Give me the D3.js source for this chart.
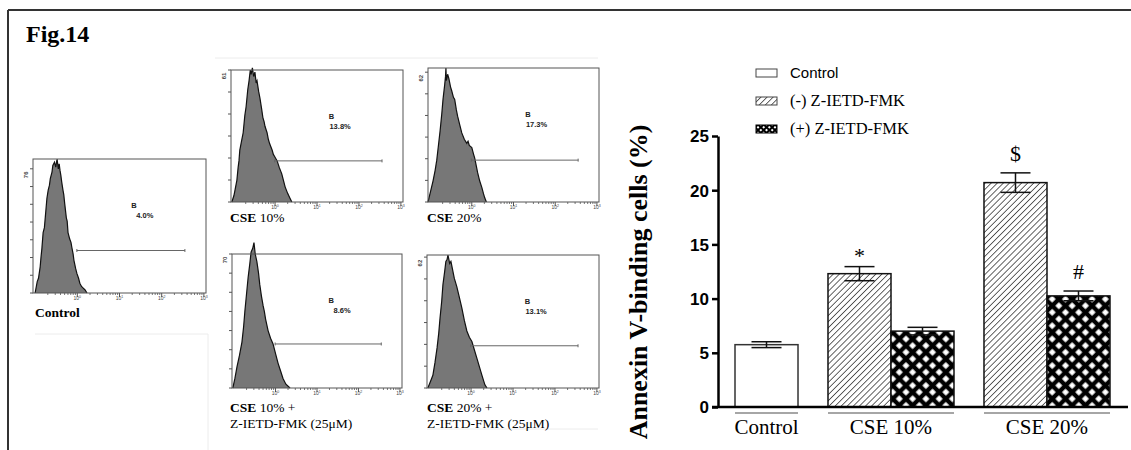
<!DOCTYPE html>
<html>
<head>
<meta charset="utf-8">
<script src="https://cdn.jsdelivr.net/npm/d3@7"></script>
<style>
  body { margin: 0; background: #fff; }
  svg { display: block; }
</style>
</head>
<body>
<svg id="fig" width="1131" height="450"></svg>
<script>
// ---------- Bar chart data ----------
const groups = ["Control", "CSE 10%", "CSE 20%"];
const seriesNames = ["Control", "(-) Z-IETD-FMK", "(+) Z-IETD-FMK"];
const barGroup = [0, 1, 1, 2, 2];
const barSeries = [0, 1, 2, 1, 2];
const barMeans = [5.75, 12.3, 7.0, 20.7, 10.25];
const barSEM = [0.27, 0.65, 0.35, 0.9, 0.45];
const barMarks = ["", "*", "", "$", "#"];
const yTicks = [0, 5, 10, 15, 20, 25];
const yTitle = "Annexin V-binding cells (%)";

// ---------- Flow cytometry histograms (log10 fluorescence, event count) ----------
const panelTitleBold = ["Control", "CSE", "CSE", "CSE", "CSE"];
const panelTitleRest = ["", " 10%", " 20%", " 10% +", " 20% +"];
const panelTitleLine2 = ["", "", "", "Z-IETD-FMK (25\u03bcM)", "Z-IETD-FMK (25\u03bcM)"];
const panelMaxCount = [76, 61, 62, 70, 62];
const panelGateName = ["B", "B", "B", "B", "B"];
const panelGatePct = ["4.0%", "13.8%", "17.3%", "8.6%", "13.1%"];
const decades = [0, 1, 2, 3];

const histControl = [[-1.00,0],[-0.95,7],[-0.92,9],[-0.88,16],[-0.86,22],[-0.84,27],[-0.81,37],[-0.78,40],[-0.76,46],
  [-0.72,58],[-0.69,63],[-0.66,66],[-0.64,70],[-0.60,74],[-0.58,78],[-0.54,80],[-0.51,77],[-0.48,82],
  [-0.45,76],[-0.43,79],[-0.41,75],[-0.39,72],[-0.37,68],[-0.34,63],[-0.32,60],[-0.30,55],[-0.26,46],
  [-0.24,44],[-0.22,37],[-0.18,33],[-0.15,31],[-0.13,28],[-0.10,24],[-0.08,20],[-0.04,15],[-0.01,12],
  [0.03,9],[0.06,6],[0.10,4],[0.14,3],[0.18,2],[0.23,0]];
const histCse10 = [[-1.03,0],[-0.98,3],[-0.95,6],[-0.91,10],[-0.88,16],[-0.86,19],[-0.84,24],[-0.80,28],[-0.76,32],
  [-0.72,40],[-0.69,44],[-0.65,52],[-0.62,56],[-0.59,61],[-0.57,59],[-0.54,62],[-0.51,58],[-0.48,60],
  [-0.45,55],[-0.43,56],[-0.39,51],[-0.36,48],[-0.32,43],[-0.29,39],[-0.26,37],[-0.24,35],[-0.19,32],
  [-0.16,29],[-0.13,27],[-0.07,24],[-0.04,22],[-0.01,21],[0.02,20],[0.05,19],[0.10,16],[0.16,13],[0.20,10],
  [0.24,7],[0.30,4],[0.35,2],[0.40,0]];
const histCse20 = [[-1.05,0],[-0.99,5],[-0.93,10],[-0.88,15],[-0.84,20],[-0.80,27],[-0.76,34],[-0.72,42],
  [-0.69,49],[-0.65,56],[-0.63,60],[-0.62,64],[-0.61,58],[-0.58,61],[-0.55,59],[-0.51,55],[-0.48,53],
  [-0.44,50],[-0.41,49],[-0.37,44],[-0.34,41],[-0.29,37],[-0.24,33],[-0.18,30],[-0.12,28],[-0.09,29],
  [-0.06,27],[0.00,26],[0.04,23],[0.07,21],[0.11,17],[0.14,14],[0.19,10],[0.24,7],[0.28,4],[0.31,2],[0.35,0]];
const histCse10Z = [[-1.03,0],[-0.98,5],[-0.93,11],[-0.87,17],[-0.81,24],[-0.77,32],[-0.74,40],[-0.70,49],
  [-0.66,58],[-0.62,65],[-0.59,71],[-0.55,73],[-0.52,76],[-0.49,70],[-0.45,66],[-0.41,60],[-0.38,54],
  [-0.34,48],[-0.30,43],[-0.27,40],[-0.24,36],[-0.18,30],[-0.12,26],[-0.06,23],[0.00,18],[0.06,13],
  [0.12,9],[0.18,5],[0.25,2],[0.35,0]];
const histCse20Z = [[-1.03,0],[-0.97,3],[-0.91,6],[-0.86,12],[-0.81,19],[-0.77,26],[-0.74,33],[-0.70,41],
  [-0.67,49],[-0.63,55],[-0.60,60],[-0.57,61],[-0.55,63],[-0.51,59],[-0.48,60],[-0.45,57],[-0.40,52],
  [-0.34,48],[-0.28,43],[-0.22,38],[-0.16,32],[-0.10,27],[-0.04,24],[0.02,22],[0.08,18],[0.14,14],
  [0.20,10],[0.26,6],[0.33,1.5],[0.38,0]];
const histData = [histControl, histCse10, histCse20, histCse10Z, histCse20Z];

// ---------- Layout ----------
const svg = d3.select("#fig");
const serif = "'Liberation Serif', 'Times New Roman', serif";
const sans = "'Liberation Sans', Arial, sans-serif";

// figure frame
svg.append("line").attr("x1", 8).attr("y1", 10).attr("x2", 1131).attr("y2", 10)
  .attr("stroke", "#333").attr("stroke-width", 2);
svg.append("line").attr("x1", 8).attr("y1", 10).attr("x2", 8).attr("y2", 450)
  .attr("stroke", "#333").attr("stroke-width", 2);
svg.append("text").attr("x", 26).attr("y", 42).text("Fig.14")
  .attr("font-family", serif).attr("font-weight", "bold").attr("font-size", 24);

// faint panel edges
const faint = [[215, 58, 598, 58], [35, 334, 208, 334], [208, 334, 208, 450], [427, 429, 598, 429]];
svg.selectAll("line.faint").data(faint).join("line").attr("class", "faint")
  .attr("x1", d => d[0]).attr("y1", d => d[1]).attr("x2", d => d[2]).attr("y2", d => d[3])
  .attr("stroke", "#ececec").attr("stroke-width", 1);

// histogram panel boxes: [left, top, right, bottom], y-domain top, tick intervals, gate level
const panelLayout = [
  { box: [33, 159, 206, 293], yTop: 82, intervals: 7, gate: 26, label: [35, 317] },
  { box: [231, 70, 403, 202], yTop: 61, intervals: 6, gate: 19, label: [230, 222] },
  { box: [428, 68, 599, 202], yTop: 64, intervals: 6, gate: 20, label: [427, 222] },
  { box: [232, 254, 402, 388], yTop: 70, intervals: 7, gate: 23, label: [230, 412] },
  { box: [427, 255, 599, 388], yTop: 63, intervals: 6, gate: 20, label: [427, 412] }
];

panelLayout.forEach((p, i) => {
  const [x0, y0, x1, y1] = p.box;
  const g = svg.append("g");
  const x = d3.scaleLinear().domain([-1.05, 3.05]).range([x0, x1]);
  const y = d3.scaleLinear().domain([0, p.yTop]).range([y1, y0]);
  const data = histData[i];

  g.append("path").datum(data)
    .attr("d", d3.area().x(d => x(d[0])).y0(y(0)).y1(d => y(d[1])))
    .attr("fill", "#777");
  g.append("path").datum(data)
    .attr("d", d3.line().x(d => x(d[0])).y(d => y(d[1])))
    .attr("fill", "none").attr("stroke", "#111").attr("stroke-width", 1.2);

  g.append("rect").attr("x", x0).attr("y", y0).attr("width", x1 - x0).attr("height", y1 - y0)
    .attr("fill", "none").attr("stroke", "#555").attr("stroke-width", 1);

  // count ticks
  const cTicks = d3.range(p.intervals + 1).map(k => k * panelMaxCount[i] / p.intervals);
  g.selectAll("line.ct").data(cTicks).join("line")
    .attr("x1", x0 - 3).attr("x2", x0).attr("y1", d => y(d)).attr("y2", d => y(d))
    .attr("stroke", "#555").attr("stroke-width", 1);
  g.append("text")
    .attr("transform", `translate(${x0 - 5},${y(panelMaxCount[i]) + 6}) rotate(-90)`)
    .attr("text-anchor", "middle").attr("font-family", sans).attr("font-size", 6)
    .attr("font-weight", "bold").attr("fill", "#444").text(panelMaxCount[i]);

  // log ticks
  const minors = [];
  [-1, 0, 1, 2].forEach(dcd => d3.range(2, 10).forEach(k => {
    const v = dcd + Math.log10(k);
    if (v > -1.05 && v < 3.05) minors.push(v);
  }));
  g.selectAll("line.mi").data(minors).join("line")
    .attr("x1", d => x(d)).attr("x2", d => x(d)).attr("y1", y1).attr("y2", y1 + 2)
    .attr("stroke", "#555").attr("stroke-width", 0.8);
  g.selectAll("line.ma").data(decades).join("line")
    .attr("x1", d => x(d)).attr("x2", d => x(d)).attr("y1", y1).attr("y2", y1 + 4)
    .attr("stroke", "#555").attr("stroke-width", 1);
  const lab = g.selectAll("text.dl").data(decades).join("text")
    .attr("x", d => x(d)).attr("y", y1 + 7).attr("text-anchor", "middle")
    .attr("font-family", sans).attr("font-size", 5).attr("fill", "#444");
  lab.append("tspan").text("10");
  lab.append("tspan").attr("dy", -2).attr("font-size", 3.5).text(d => d);

  // gate marker
  const gy = y(p.gate);
  g.append("line").attr("x1", x(-0.01)).attr("x2", x(2.55)).attr("y1", gy).attr("y2", gy)
    .attr("stroke", "#666").attr("stroke-width", 1);
  [-0.01, 2.55].forEach(v => g.append("line").attr("x1", x(v)).attr("x2", x(v))
    .attr("y1", gy - 1.5).attr("y2", gy + 1.5).attr("stroke", "#666").attr("stroke-width", 1));
  const bx = x(1.28);
  g.append("text").attr("x", bx).attr("y", y0 + 49).text(panelGateName[i])
    .attr("font-family", sans).attr("font-weight", "bold").attr("font-size", 7.5).attr("fill", "#222");
  g.append("text").attr("x", bx + 22).attr("y", y0 + 59).attr("text-anchor", "end").text(panelGatePct[i])
    .attr("font-family", sans).attr("font-weight", "bold").attr("font-size", 7.5).attr("fill", "#222");

  // panel captions
  const t = g.append("text").attr("x", p.label[0]).attr("y", p.label[1])
    .attr("font-family", serif).attr("font-size", 13.5);
  t.append("tspan").attr("font-weight", "bold").text(panelTitleBold[i]);
  t.append("tspan").text(panelTitleRest[i]);
  if (panelTitleLine2[i]) {
    g.append("text").attr("x", p.label[0]).attr("y", p.label[1] + 16)
      .attr("font-family", serif).attr("font-size", 13.5).text(panelTitleLine2[i]);
  }
});

// ---------- Bar chart ----------
const defs = svg.append("defs");
const hatch = defs.append("pattern").attr("id", "hatch").attr("patternUnits", "userSpaceOnUse")
  .attr("width", 4.3).attr("height", 4.3).attr("patternTransform", "rotate(45)");
hatch.append("rect").attr("width", 4.3).attr("height", 4.3).attr("fill", "#fff");
hatch.append("line").attr("x1", 0).attr("y1", 0).attr("x2", 0).attr("y2", 4.3)
  .attr("stroke", "#111").attr("stroke-width", 1.3);

const cross = defs.append("pattern").attr("id", "cross").attr("patternUnits", "userSpaceOnUse")
  .attr("width", 9.4).attr("height", 9.4).attr("patternTransform", "translate(2,0) rotate(45)");
cross.append("rect").attr("width", 9.4).attr("height", 9.4).attr("fill", "#000");
cross.append("rect").attr("x", 2.2).attr("y", 2.2).attr("width", 5).attr("height", 5).attr("fill", "#fff");

const crossSmall = defs.append("pattern").attr("id", "crossSmall").attr("patternUnits", "userSpaceOnUse")
  .attr("width", 4).attr("height", 4).attr("patternTransform", "rotate(45)");
crossSmall.append("rect").attr("width", 4).attr("height", 4).attr("fill", "#000");
crossSmall.append("rect").attr("x", 1).attr("y", 1).attr("width", 2).attr("height", 2).attr("fill", "#fff");

const seriesFill = ["#fff", "url(#hatch)", "url(#cross)"];
const legendFill = ["#fff", "url(#hatch)", "url(#crossSmall)"];

const gapUnits = 0.476;
const slot = barGroup.map((gi, i) => i + gi * gapUnits);
const x = d3.scaleLinear().domain([0, barMeans.length + (groups.length - 1) * gapUnits]).range([735, 1110]);
const y = d3.scaleLinear().domain([0, 25]).range([407, 136]);
const bw = x(1) - x(0);

const yAxis = svg.append("g").attr("transform", "translate(718,0)")
  .call(d3.axisLeft(y).tickValues(yTicks).tickSize(6).tickSizeOuter(0).tickPadding(3));
yAxis.select(".domain").attr("stroke", "#000").attr("stroke-width", 2.5);
yAxis.selectAll(".tick line").attr("stroke", "#000").attr("stroke-width", 2.5);
yAxis.selectAll(".tick text").attr("font-family", sans).attr("font-weight", "bold")
  .attr("font-size", 17).attr("fill", "#000").attr("dy", "0.35em");

svg.append("text").attr("transform", "translate(647,282) rotate(-90)").attr("text-anchor", "middle")
  .attr("font-family", serif).attr("font-weight", "bold").attr("font-size", 26).text(yTitle);

// bars
const bars = barMeans.map((m, i) => ({ m, se: barSEM[i], s: barSeries[i], slot: slot[i], mark: barMarks[i] }));
svg.selectAll("rect.bar").data(bars).join("rect").attr("class", "bar")
  .attr("x", d => x(d.slot)).attr("width", bw)
  .attr("y", d => y(d.m)).attr("height", d => y(0) - y(d.m))
  .attr("fill", d => seriesFill[d.s])
  .attr("stroke", d => d.s === 0 ? "#333" : "#111").attr("stroke-width", 1.5);

// error bars
const eb = svg.selectAll("g.eb").data(bars).join("g").attr("class", "eb");
eb.append("line").attr("x1", d => x(d.slot) + bw / 2).attr("x2", d => x(d.slot) + bw / 2)
  .attr("y1", d => y(d.m - d.se)).attr("y2", d => y(d.m + d.se)).attr("stroke", "#111").attr("stroke-width", 1.5);
eb.append("line").attr("x1", d => x(d.slot) + bw / 2 - 15).attr("x2", d => x(d.slot) + bw / 2 + 15)
  .attr("y1", d => y(d.m + d.se)).attr("y2", d => y(d.m + d.se)).attr("stroke", "#111").attr("stroke-width", 1.5);
eb.append("line").attr("x1", d => x(d.slot) + bw / 2 - 15).attr("x2", d => x(d.slot) + bw / 2 + 15)
  .attr("y1", d => y(d.m - d.se)).attr("y2", d => y(d.m - d.se)).attr("stroke", "#111").attr("stroke-width", 1.5);

// significance marks
svg.selectAll("text.mark").data(bars.filter(d => d.mark)).join("text").attr("class", "mark")
  .attr("x", d => x(d.slot) + bw / 2).attr("y", d => y(d.m + d.se) - (d.mark === "*" ? 4 : 12))
  .attr("text-anchor", "middle").attr("font-family", serif).attr("font-size", 22).text(d => d.mark);

// x axis
svg.append("line").attr("x1", 712).attr("x2", 1128).attr("y1", y(0)).attr("y2", y(0))
  .attr("stroke", "#000").attr("stroke-width", 2.5);

// group underline and labels
groups.forEach((name, gi) => {
  const idx = barGroup.map((v, i) => v === gi ? i : -1).filter(i => i >= 0);
  const left = x(slot[idx[0]]);
  const right = x(slot[idx[idx.length - 1]]) + bw;
  svg.append("line").attr("x1", left).attr("x2", right).attr("y1", 413).attr("y2", 413)
    .attr("stroke", "#888").attr("stroke-width", 1.5);
  svg.append("text").attr("x", (left + right) / 2).attr("y", 434).attr("text-anchor", "middle")
    .attr("font-family", serif).attr("font-size", 21).text(name);
});

// legend
const legend = svg.append("g");
seriesNames.forEach((name, i) => {
  const ly = [69, 97, 125][i];
  legend.append("rect").attr("x", 756).attr("y", ly).attr("width", 21).attr("height", 8)
    .attr("fill", legendFill[i]).attr("stroke", i === 2 ? "#000" : "#444").attr("stroke-width", 1);
  legend.append("text").attr("x", 790).attr("y", ly + 9)
    .attr("font-family", i === 0 ? sans : serif).attr("font-size", i === 0 ? 15 : 16.5).text(name);
});
</script>
</body>
</html>
